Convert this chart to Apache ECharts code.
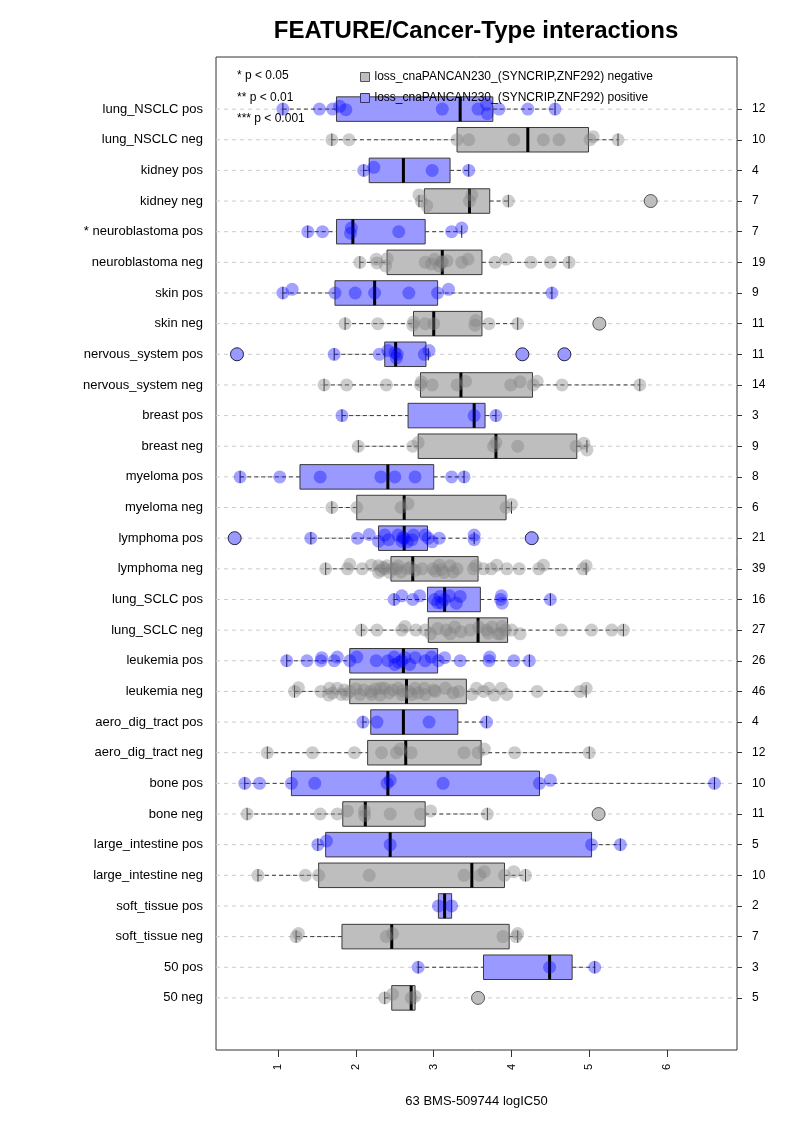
<!DOCTYPE html>
<html><head><meta charset="utf-8">
<script src="https://cdn.jsdelivr.net/npm/echarts@6/dist/echarts.min.js"></script>
<style>html,body{margin:0;padding:0;background:#fff}#c{width:793px;height:1122px}</style>
</head><body><div id="c"></div>
<script>
const labels = ["lung_NSCLC pos","lung_NSCLC neg","kidney pos","kidney neg","* neuroblastoma pos","neuroblastoma neg","skin pos","skin neg","nervous_system pos","nervous_system neg","breast pos","breast neg","myeloma pos","myeloma neg","lymphoma pos","lymphoma neg","lung_SCLC pos","lung_SCLC neg","leukemia pos","leukemia neg","aero_dig_tract pos","aero_dig_tract neg","bone pos","bone neg","large_intestine pos","large_intestine neg","soft_tissue pos","soft_tissue neg","50 pos","50 neg"];
const counts = [12,10,4,7,7,19,9,11,11,14,3,9,8,6,21,39,16,27,26,46,4,12,10,11,5,10,2,7,3,5];
const xTicks = [1,2,3,4,5,6];
// [whisker low, Q1, median, Q3, whisker high]
const boxStats = [
[1.06,1.75,3.34,3.76,4.56],[1.69,3.30,4.21,4.99,5.37],[2.10,2.17,2.61,3.21,3.45],[2.81,2.88,3.46,3.72,3.96],
[1.38,1.75,1.96,2.89,3.36],[2.05,2.40,3.11,3.62,4.74],[1.06,1.73,2.24,3.05,4.52],[1.86,2.74,3.00,3.62,4.08],
[1.72,2.37,2.51,2.90,2.93],[1.59,2.83,3.35,4.27,5.65],[1.82,2.67,3.52,3.66,3.80],[2.03,2.80,3.80,4.84,4.97],
[0.51,1.28,2.41,3.00,3.39],[1.69,2.01,2.62,3.93,4.00],[1.42,2.29,2.62,2.92,3.52],[1.61,2.45,2.73,3.57,4.96],
[2.49,2.92,3.14,3.60,4.50],[2.07,2.93,3.57,3.95,5.44],[1.11,1.92,2.61,3.05,4.23],[1.21,1.92,2.65,3.42,4.96],
[2.09,2.19,2.61,3.31,3.68],[0.86,2.15,2.64,3.61,5.00],[0.57,1.17,2.41,4.36,6.61],[0.60,1.83,2.12,2.89,3.69],
[1.51,1.61,2.44,5.03,5.40],[0.74,1.52,3.49,3.91,4.18],[3.06,3.06,3.14,3.23,3.23],[1.23,1.82,2.46,3.97,4.08],
[2.80,3.64,4.49,4.78,5.07],[2.37,2.46,2.71,2.76,2.76]
];
// outliers: [row, value]
const outliers = [[3,5.79],[7,5.13],[8,0.47],[8,4.14],[8,4.68],[14,0.44],[14,4.26],[23,5.12],[29,3.57]];
// jittered observations per row: [value, vertical offset in row units]
const points = [
[[1.06,0],[1.53,0],[1.70,0],[1.79,-0.09],[1.87,0.02],[3.11,0],[3.57,0],[3.68,-0.15],[3.69,0.15],[3.84,0],[4.21,0],[4.56,0]],
[[1.69,0],[1.91,0],[3.30,0],[3.45,0],[4.03,0],[4.41,0],[4.61,0],[5.01,0],[5.05,-0.1],[5.37,0]],
[[2.10,0],[2.23,-0.1],[2.98,0],[3.45,0]],
[[2.81,-0.2],[2.84,0],[2.91,0.15],[3.46,0],[3.49,-0.2],[3.96,0]],
[[1.38,0],[1.57,0],[1.93,0.05],[1.94,-0.12],[2.55,0],[3.23,0],[3.36,-0.12]],
[[2.05,0],[2.26,-0.1],[2.27,0.02],[2.38,0.12],[2.40,-0.12],[2.89,0],[2.97,0.05],[3.01,-0.1],[3.07,0.12],[3.10,-0.02],[3.11,0],[3.17,-0.05],[3.36,0],[3.44,-0.1],[3.79,0],[3.93,-0.1],[4.25,0],[4.50,0],[4.74,0]],
[[1.06,0],[1.18,-0.12],[1.73,0],[1.99,0],[2.24,0],[2.68,0],[3.05,0],[3.19,-0.12],[4.52,0]],
[[1.86,0],[2.28,0],[2.73,0.05],[2.74,-0.05],[2.89,0],[3.00,0],[3.53,0.05],[3.54,-0.1],[3.71,0],[4.08,0]],
[[1.72,0],[2.30,0],[2.41,-0.12],[2.50,-0.05],[2.52,0.12],[2.53,0],[2.88,0],[2.94,-0.12]],
[[1.59,0],[1.88,0],[2.39,0],[2.83,0],[2.84,-0.1],[2.98,0],[3.30,0],[3.41,-0.12],[3.99,0],[4.11,-0.1],[4.28,0],[4.33,-0.12],[4.65,0],[5.65,0]],
[[1.82,0],[3.52,0],[3.80,0]],
[[2.03,0],[2.73,0],[2.80,-0.12],[3.77,0],[3.80,-0.12],[4.08,0],[4.83,0],[4.93,-0.1],[4.97,0.12]],
[[0.51,0],[1.02,0],[1.54,0],[2.32,0],[2.50,0],[2.76,0],[3.23,0],[3.39,0]],
[[1.69,0],[2.01,0],[2.58,0],[2.67,-0.12],[3.93,0],[4.00,-0.1]],
[[1.42,0],[2.02,0],[2.17,-0.12],[2.29,0.1],[2.37,-0.1],[2.42,0.05],[2.54,-0.1],[2.59,0.1],[2.60,-0.02],[2.62,0],[2.66,0.12],[2.72,0.05],[2.74,-0.1],[2.89,-0.1],[2.93,0],[2.98,0.12],[3.07,0],[3.52,0.05],[3.52,-0.1]],
[[1.61,0],[1.89,0],[1.92,-0.15],[2.08,0],[2.20,-0.12],[2.29,-0.1],[2.29,0.12],[2.32,0.05],[2.35,-0.05],[2.37,0],[2.40,-0.1],[2.43,0.12],[2.47,0],[2.52,0],[2.54,-0.1],[2.58,0.1],[2.66,0],[2.70,-0.05],[2.76,0.05],[2.85,0],[2.99,0],[3.02,0.08],[3.07,-0.12],[3.10,0.02],[3.13,0.12],[3.21,-0.1],[3.25,0.1],[3.30,0],[3.51,0],[3.54,-0.1],[3.64,0],[3.74,0],[3.81,-0.12],[3.94,0],[4.10,0],[4.35,0],[4.41,-0.12],[4.92,0],[4.96,-0.1]],
[[2.49,0],[2.59,-0.12],[2.73,0],[2.82,-0.12],[3.01,0],[3.05,0.1],[3.08,-0.1],[3.10,0.12],[3.14,0],[3.20,-0.12],[3.29,0.12],[3.34,-0.1],[3.86,0],[3.87,-0.12],[3.88,0.12],[4.50,0]],
[[2.07,0],[2.27,0],[2.59,0],[2.63,-0.12],[2.77,0],[2.89,0],[2.96,0.12],[3.05,-0.05],[3.16,0],[3.21,0.12],[3.27,-0.1],[3.35,0.05],[3.47,0],[3.58,-0.1],[3.68,0],[3.70,0.1],[3.75,-0.1],[3.83,0.12],[3.86,0.12],[3.88,-0.12],[3.92,0],[4.00,0],[4.11,0.12],[4.64,0],[5.03,0],[5.29,0],[5.44,0]],
[[1.11,0],[1.37,0],[1.55,0],[1.56,-0.1],[1.72,0],[1.76,-0.12],[1.92,0],[2.01,-0.12],[2.26,0],[2.41,0],[2.49,-0.12],[2.50,0.12],[2.55,0.05],[2.59,0],[2.63,-0.1],[2.69,0.12],[2.76,-0.1],[2.89,0],[2.97,-0.12],[3.06,0],[3.14,-0.1],[3.34,0],[3.71,0],[3.72,-0.12],[4.03,0],[4.23,0]],
[[1.21,0],[1.26,-0.12],[1.55,0],[1.65,0.12],[1.66,-0.1],[1.70,0.05],[1.76,-0.1],[1.81,0.1],[1.85,-0.05],[1.88,0.1],[1.92,0],[2.00,-0.08],[2.05,0.1],[2.10,-0.05],[2.19,0],[2.20,0.1],[2.25,-0.08],[2.31,0.12],[2.32,-0.1],[2.37,-0.1],[2.43,0.05],[2.47,-0.05],[2.54,-0.1],[2.59,0.1],[2.60,-0.02],[2.68,0],[2.72,0.1],[2.76,-0.1],[2.80,0.05],[2.88,-0.1],[2.89,0.1],[3.00,-0.05],[3.02,0],[3.15,-0.1],[3.25,0.05],[3.32,0],[3.49,0.1],[3.55,-0.1],[3.64,0],[3.71,-0.1],[3.78,0.12],[3.87,-0.1],[3.94,0.1],[4.33,0],[4.88,0],[4.96,-0.1]],
[[2.09,0],[2.27,0],[2.94,0],[3.68,0]],
[[0.86,0],[1.44,0],[1.98,0],[2.33,0],[2.52,0],[2.57,-0.12],[2.71,0],[3.39,0],[3.57,0],[3.65,-0.12],[4.04,0],[5.00,0]],
[[0.57,0],[0.76,0],[1.17,0],[1.47,0],[2.40,0],[2.44,-0.1],[3.12,0],[4.36,0],[4.50,-0.1],[6.61,0]],
[[0.60,0],[1.54,0],[1.76,0],[1.89,-0.1],[2.11,-0.1],[2.11,0.05],[2.44,0],[2.83,0],[2.96,-0.1],[3.69,0]],
[[1.51,0],[1.62,-0.12],[2.44,0],[5.03,0],[5.40,0]],
[[0.74,0],[1.35,0],[1.52,0],[2.17,0],[3.39,0],[3.59,0],[3.65,-0.12],[3.91,0],[4.03,-0.12],[4.18,0]],
[[3.06,0],[3.23,0]],
[[1.23,0],[1.26,-0.1],[2.39,0],[2.47,-0.1],[3.89,0],[4.06,0],[4.08,-0.1]],
[[2.80,0],[4.49,0],[5.07,0]],
[[2.37,0],[2.47,-0.12],[2.71,0],[2.76,-0.05]]
];
const NEG_NAME = 'loss_cnaPANCAN230_(SYNCRIP,ZNF292) negative';
const POS_NAME = 'loss_cnaPANCAN230_(SYNCRIP,ZNF292) positive';
const pNotes = ['* p < 0.05','** p < 0.01','*** p < 0.001'];

const X_MIN = 0.2, X_MAX = 6.9, Y_MIN = -1.7, Y_MAX = 30.7;
const GRAY_FILL = '#BEBEBE', BLUE_FILL = '#9999FF';
const rows = labels.map((_, i) => i);
const isPos = i => i % 2 === 0;
const FONT = '"Liberation Sans", Arial, Helvetica, sans-serif';

function renderBox(params, api) {
  const r = api.value(0);
  const lo = api.coord([api.value(1), r]);
  const q1 = api.coord([api.value(2), r]);
  const md = api.coord([api.value(3), r]);
  const q3 = api.coord([api.value(4), r]);
  const hi = api.coord([api.value(5), r]);
  const half = Math.abs(api.size([0, 0.4])[1]);
  const st = Math.abs(api.size([0, 0.2])[1]);
  const y = lo[1];
  const wStyle = {stroke: '#3a3a3a', lineWidth: 1, lineDash: [4, 3]};
  return {type: 'group', children: [
    {type: 'line', shape: {x1: lo[0], y1: y, x2: q1[0], y2: y}, style: wStyle},
    {type: 'line', shape: {x1: q3[0], y1: y, x2: hi[0], y2: y}, style: wStyle},
    {type: 'line', shape: {x1: lo[0], y1: y - st, x2: lo[0], y2: y + st}, style: {stroke: '#222', lineWidth: 1}},
    {type: 'line', shape: {x1: hi[0], y1: y - st, x2: hi[0], y2: y + st}, style: {stroke: '#222', lineWidth: 1}},
    {type: 'rect', shape: {x: q1[0], y: y - half, width: q3[0] - q1[0], height: 2 * half},
      style: {fill: api.visual('color'), stroke: '#3a3a3a', lineWidth: 1}},
    {type: 'line', shape: {x1: md[0], y1: y - half, x2: md[0], y2: y + half}, style: {stroke: '#000', lineWidth: 3}}
  ]};
}
function renderRowLine(params, api) {
  const r = api.value(0);
  const a = api.coord([X_MIN, r]), b = api.coord([X_MAX, r]);
  return {type: 'line', shape: {x1: a[0], y1: a[1], x2: b[0], y2: b[1]},
    style: {stroke: '#CCCCCC', lineWidth: 1, lineDash: [4, 4]}};
}
const boxData = pos => rows.filter(r => isPos(r) === pos).map(r => [r].concat(boxStats[r]));
const ptData = pos => rows.filter(r => isPos(r) === pos).flatMap(r => points[r].map(p => [p[0], r + p[1]]));
const outData = pos => outliers.filter(o => isPos(o[0]) === pos).map(o => [o[1], o[0]]);

const chart = echarts.init(document.getElementById('c'), null, {renderer: 'canvas'});
chart.setOption({
  animation: false,
  backgroundColor: '#fff',
  textStyle: {fontFamily: FONT, color: '#000'},
  title: {text: 'FEATURE/Cancer-Type interactions', left: 471, top: 14, textAlign: 'center',
    textStyle: {fontSize: 24, fontWeight: 'bold', color: '#000', fontFamily: FONT}},
  legend: {orient: 'vertical', left: 355, top: 66, itemWidth: 9, itemHeight: 9, itemGap: 9, selectedMode: false,
    textStyle: {fontSize: 12, color: '#000', fontFamily: FONT},
    data: [
      {name: NEG_NAME, icon: 'rect', itemStyle: {color: GRAY_FILL, borderColor: '#555', borderWidth: 1}},
      {name: POS_NAME, icon: 'rect', itemStyle: {color: BLUE_FILL, borderColor: '#333366', borderWidth: 1}}
    ]},
  graphic: pNotes.map((t, i) => ({type: 'text', x: 237, y: 76 + i * 21.5,
    style: {text: t, fontSize: 12, fill: '#000', verticalAlign: 'middle', fontFamily: FONT}})),
  grid: {left: 216, right: 56, top: 57, bottom: 72, show: true, borderColor: '#333', borderWidth: 1},
  xAxis: {type: 'value', min: X_MIN, max: X_MAX, position: 'bottom',
    axisLine: {show: false, onZero: false}, splitLine: {show: false},
    axisTick: {show: true, customValues: xTicks, length: 7, lineStyle: {color: '#333'}},
    axisLabel: {customValues: xTicks, rotate: 90, fontSize: 11, margin: 14, color: '#000', fontFamily: FONT},
    name: '63 BMS-509744 logIC50', nameLocation: 'middle', nameGap: 45,
    nameTextStyle: {fontSize: 13, color: '#000', fontFamily: FONT}},
  yAxis: [
    {type: 'value', min: Y_MIN, max: Y_MAX, inverse: true, position: 'left',
      axisLine: {show: false, onZero: false}, axisTick: {show: false}, splitLine: {show: false},
      axisLabel: {customValues: rows, formatter: v => labels[Math.round(v)], fontSize: 13, margin: 13, color: '#000', fontFamily: FONT}},
    {type: 'value', min: Y_MIN, max: Y_MAX, inverse: true, position: 'right',
      axisLine: {show: false, onZero: false}, splitLine: {show: false},
      axisTick: {show: true, customValues: rows, length: 5, lineStyle: {color: '#333'}},
      axisLabel: {customValues: rows, formatter: v => String(counts[Math.round(v)]), fontSize: 12, margin: 15, color: '#000', fontFamily: FONT}}
  ],
  series: [
    {type: 'custom', name: 'rowlines', renderItem: renderRowLine, data: rows.map(r => [r]), encode: {y: 0}, z: 1, silent: true},
    {type: 'custom', name: NEG_NAME, renderItem: renderBox, data: boxData(false), encode: {x: [1, 5], y: 0},
      itemStyle: {color: GRAY_FILL}, z: 2},
    {type: 'custom', name: POS_NAME, renderItem: renderBox, data: boxData(true), encode: {x: [1, 5], y: 0},
      itemStyle: {color: BLUE_FILL}, z: 2},
    {type: 'scatter', name: 'neg points', data: ptData(false), symbolSize: 13,
      itemStyle: {color: 'rgba(128,128,128,0.5)', borderWidth: 0}, z: 3},
    {type: 'scatter', name: 'pos points', data: ptData(true), symbolSize: 13,
      itemStyle: {color: 'rgba(0,0,255,0.45)', borderWidth: 0}, z: 3},
    {type: 'scatter', name: 'neg outliers', data: outData(false), symbolSize: 13,
      itemStyle: {color: GRAY_FILL, borderColor: '#555', borderWidth: 1, opacity: 1}, z: 4},
    {type: 'scatter', name: 'pos outliers', data: outData(true), symbolSize: 13,
      itemStyle: {color: BLUE_FILL, borderColor: '#222244', borderWidth: 1, opacity: 1}, z: 4}
  ]
});
</script></body></html>
